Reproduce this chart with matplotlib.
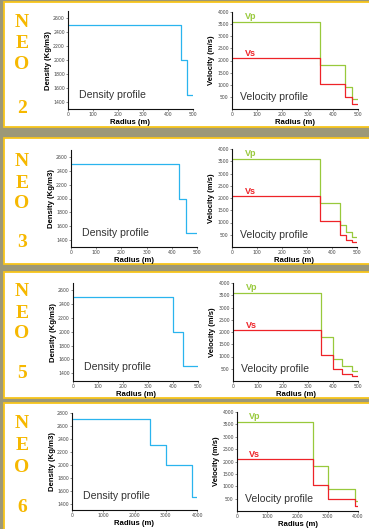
import matplotlib
matplotlib.use("Agg")
import matplotlib.pyplot as plt
from matplotlib.patches import Rectangle
import matplotlib.transforms as mtransforms

# ---------------- data ----------------
neo_labels = ["2", "3", "5", "6"]

neo2_density_r = [0, 450, 475, 500]
neo2_density = [2500, 2000, 1500]
neo2_vel_r = [0, 350, 450, 475, 500]
neo2_vp = [3600, 1800, 900, 400]
neo2_vs = [2100, 1050, 500, 200]

neo3_density_r = [0, 430, 455, 500]
neo3_density = [2500, 2000, 1500]
neo3_vel_r = [0, 350, 430, 455, 480, 500]
neo3_vp = [3600, 1800, 900, 600, 400]
neo3_vs = [2100, 1050, 500, 300, 200]

neo5_density_r = [0, 400, 440, 500]
neo5_density = [2500, 2000, 1500]
neo5_vel_r = [0, 350, 400, 435, 475, 500]
neo5_vp = [3600, 1800, 900, 600, 400]
neo5_vs = [2100, 1050, 500, 300, 200]

neo6_density_r = [0, 2500, 3000, 3850, 4000]
neo6_density = [2700, 2300, 2000, 1500]
neo6_vel_r = [0, 2500, 3000, 3900, 4000]
neo6_vp = [3600, 1800, 900, 400]
neo6_vs = [2100, 1050, 500, 200]

small_xticks = [0, 100, 200, 300, 400, 500]
large_xticks = [0, 1000, 2000, 3000, 4000]
density_ticks_small = [1400, 1600, 1800, 2000, 2200, 2400, 2600]
density_ticks_large = [1400, 1600, 1800, 2000, 2200, 2400, 2600, 2800]
velocity_ticks = [500, 1000, 1500, 2000, 2500, 3000, 3500, 4000]

# ---------------- layout ----------------
W, H = 369, 529
fig = plt.figure(figsize=(W / 100, H / 100), dpi=100)
fig.patch.set_facecolor("#9c9878")

GOLD = "#f6b800"
BORDER = "#f7c51c"
BLUE = "#2ab4ee"
GREEN = "#98c93c"
RED = "#ee2328"


def fx(px):
    return px / W


def fy(py):
    return 1 - py / H


def add_ax(left, right, top, bottom):
    ax = fig.add_axes([fx(left), fy(bottom), fx(right - left), (bottom - top) / H])
    ax.set_zorder(2)
    return ax


panels = [
    dict(top=2.5, bot=127, label=neo_labels[0],
         dr=neo2_density_r, d=neo2_density, vr=neo2_vel_r, vp=neo2_vp, vs=neo2_vs,
         dax=(68, 193, 11, 109), vax=(232, 358, 12, 109), xmax=500,
         xt=small_xticks, dt=density_ticks_small, dylim=(1300, 2700),
         letters=(20, 41, 62, 106)),
    dict(top=138, bot=263.5, label=neo_labels[1],
         dr=neo3_density_r, d=neo3_density, vr=neo3_vel_r, vp=neo3_vp, vs=neo3_vs,
         dax=(71, 197, 150, 247), vax=(232, 357, 149, 247), xmax=500,
         xt=small_xticks, dt=density_ticks_small, dylim=(1300, 2700),
         letters=(24, 45, 65, 105)),
    dict(top=272, bot=397.5, label=neo_labels[2],
         dr=neo5_density_r, d=neo5_density, vr=neo5_vel_r, vp=neo5_vp, vs=neo5_vs,
         dax=(73, 198, 283, 381), vax=(233, 358, 283, 381), xmax=500,
         xt=small_xticks, dt=density_ticks_small, dylim=(1290, 2700),
         letters=(20, 41, 61, 101)),
    dict(top=403, bot=540, label=neo_labels[3],
         dr=neo6_density_r, d=neo6_density, vr=neo6_vel_r, vp=neo6_vp, vs=neo6_vs,
         dax=(72, 197, 413, 510), vax=(237, 358, 412, 511), xmax=4000,
         xt=large_xticks, dt=density_ticks_large, dylim=(1300, 2800),
         letters=(20, 42, 64, 104)),
]


def style_axis(ax):
    for s in ("top", "right"):
        ax.spines[s].set_visible(False)
    for s in ("left", "bottom"):
        ax.spines[s].set_linewidth(0.8)
        ax.spines[s].set_color("#111111")
    ax.tick_params(axis="both", labelsize=3.3, length=1.5, width=0.4,
                   pad=0.8, colors="#333333", labelcolor="#444444")
    ax.set_facecolor("none")


for p in panels:
    # panel box
    fig.patches.append(Rectangle((fx(3.5), fy(p["bot"])), fx(372) - fx(3.5),
                                 (p["bot"] - p["top"]) / H,
                                 transform=fig.transFigure, facecolor="white",
                                 edgecolor=BORDER, linewidth=1.3, zorder=-5))
    # NEO letters
    for ch, off in zip(["N", "E", "O", p["label"]], p["letters"]):
        fig.text(fx(22), fy(p["top"] + off), ch, ha="center", va="center",
                 fontsize=14, fontweight="bold", color=GOLD,
                 family="Liberation Serif", zorder=3)

    # density axes
    ax = add_ax(*p["dax"])
    style_axis(ax)
    dx = list(p["dr"])
    dy = list(p["d"]) + [p["d"][-1]]
    ax.step(dx, dy, where="post", color=BLUE, linewidth=0.9)
    ax.set_xlim(0, p["xmax"])
    ax.set_ylim(*p["dylim"])
    ax.set_xticks(p["xt"])
    ax.set_yticks(p["dt"])
    ax.set_xlabel("Radius (m)", fontsize=5.6, fontweight="bold",
                  family="Liberation Sans", labelpad=1.0)
    ax.set_ylabel("Density (Kg/m3)", fontsize=5.6, fontweight="bold",
                  family="Liberation Sans", labelpad=0.5)
    ax.annotate("Density profile", xy=(0, 0), xycoords="axes fraction",
                xytext=(11, 14), textcoords="offset pixels", va="center",
                ha="left", fontsize=7.6, color="#333333",
                family="Liberation Sans")

    # velocity axes
    ax2 = add_ax(*p["vax"])
    style_axis(ax2)
    vx = list(p["vr"])
    vpy = list(p["vp"]) + [p["vp"][-1]]
    vsy = list(p["vs"]) + [p["vs"][-1]]
    ax2.step(vx, vpy, where="post", color=GREEN, linewidth=0.9)
    ax2.step(vx, vsy, where="post", color=RED, linewidth=0.9)
    ax2.set_xlim(0, p["xmax"])
    ax2.set_ylim(0, 4000)
    ax2.set_xticks(p["xt"])
    ax2.set_yticks(velocity_ticks)
    ax2.set_xlabel("Radius (m)", fontsize=5.6, fontweight="bold",
                   family="Liberation Sans", labelpad=1.0)
    ax2.set_ylabel("Velocity (m/s)", fontsize=5.6, fontweight="bold",
                   family="Liberation Sans", labelpad=1.5)
    tr = mtransforms.blended_transform_factory(ax2.transAxes, ax2.transData)
    ax2.text(0.1, 3800, "Vp", transform=tr, color=GREEN, fontsize=6.5,
             fontweight="bold", va="center", ha="left", family="Liberation Sans")
    ax2.text(0.1, 2270, "Vs", transform=tr, color=RED, fontsize=6.5,
             fontweight="bold", va="center", ha="left", family="Liberation Sans")
    ax2.annotate("Velocity profile", xy=(0, 0), xycoords="axes fraction",
                 xytext=(8, 12), textcoords="offset pixels", va="center",
                 ha="left", fontsize=7.6, color="#333333",
                 family="Liberation Sans")

fig.savefig("out.png", dpi=100, facecolor=fig.get_facecolor())
